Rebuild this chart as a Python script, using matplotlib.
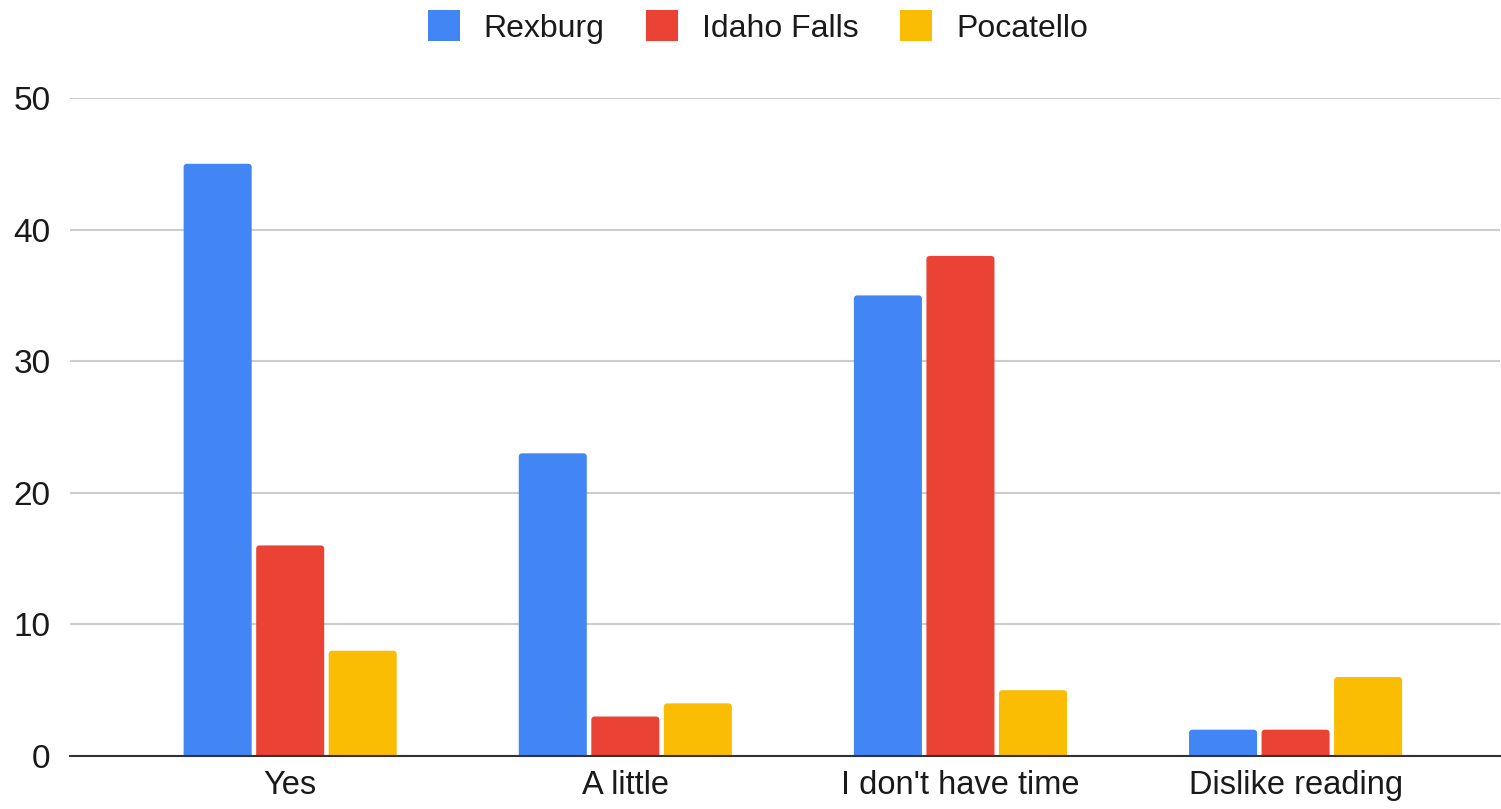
import matplotlib
matplotlib.use("Agg")
import matplotlib.pyplot as plt
import numpy as np
from matplotlib.patches import FancyBboxPatch

categories = ["Yes", "A little", "I don't have time", "Dislike reading"]
series_names = ["Rexburg", "Idaho Falls", "Pocatello"]
rexburg = [45, 23, 35, 2]
idaho_falls = [16, 3, 38, 2]
pocatello = [8, 4, 5, 6]
yticks = [0, 10, 20, 30, 40, 50]
colors = ["#4285F4", "#EA4335", "#FBBC04"]

plt.rcParams['font.family'] = ['Liberation Sans', 'DejaVu Sans']

fig = plt.figure(figsize=(15.01, 8.09), dpi=100)
ax = fig.add_axes([70/1501, 53/809, 1430/1501, (756-98)/809])

ax.set_xlim(-0.657, 3.61)
ax.set_ylim(0, 50)

x = np.arange(len(categories))
slot = 0.2164
width = 0.203
# rounding radius ~3px: convert to data units
px_x = (3.61 + 0.657) / 1430
px_y = 50 / 658
r_px = 3.5
for i, (vals, name) in enumerate(zip([rexburg, idaho_falls, pocatello], series_names)):
    bars = ax.bar(x + (i - 1) * slot, vals, width=width, color=colors[i], label=name, zorder=3)
    for b in bars:
        b.set_visible(False)
        bx, by = b.get_x(), b.get_y()
        bw, bh = b.get_width(), b.get_height()
        ext = 6 * px_y
        p = FancyBboxPatch((bx, by - ext), bw, bh + ext,
                           boxstyle=f"round,pad=0,rounding_size={r_px * px_x}",
                           mutation_aspect=px_y / px_x,
                           facecolor=colors[i], edgecolor='none', zorder=3)
        ax.add_patch(p)

ax.set_yticks(yticks)
ax.set_xticks(x)
ax.set_xticklabels(categories)
ax.tick_params(axis='y', length=0, labelsize=24, colors='#1a1a1a', pad=14)
ax.tick_params(axis='x', length=0, labelsize=23.5, colors='#1a1a1a', pad=10)
ax.grid(axis='y', color='#cccccc', linewidth=1.5, zorder=0)
for s in ['top', 'right', 'left']:
    ax.spines[s].set_visible(False)
ax.spines['bottom'].set_color('#333333')
ax.spines['bottom'].set_linewidth(1.5)
ax.spines['bottom'].set_zorder(4)

handles = [FancyBboxPatch((0, 0), 1, 1, boxstyle="round,pad=0,rounding_size=0.1",
                          facecolor=c, edgecolor='none') for c in colors]
leg = fig.legend(handles, series_names, loc='center', bbox_to_anchor=(758/1501, 1 - 27/809), ncol=3,
                 frameon=False, fontsize=23, handlelength=1.0, handleheight=1.1,
                 columnspacing=1.3, handletextpad=0.75)
for t in leg.get_texts():
    t.set_color('#1a1a1a')

fig.savefig("out.png", dpi=100)
